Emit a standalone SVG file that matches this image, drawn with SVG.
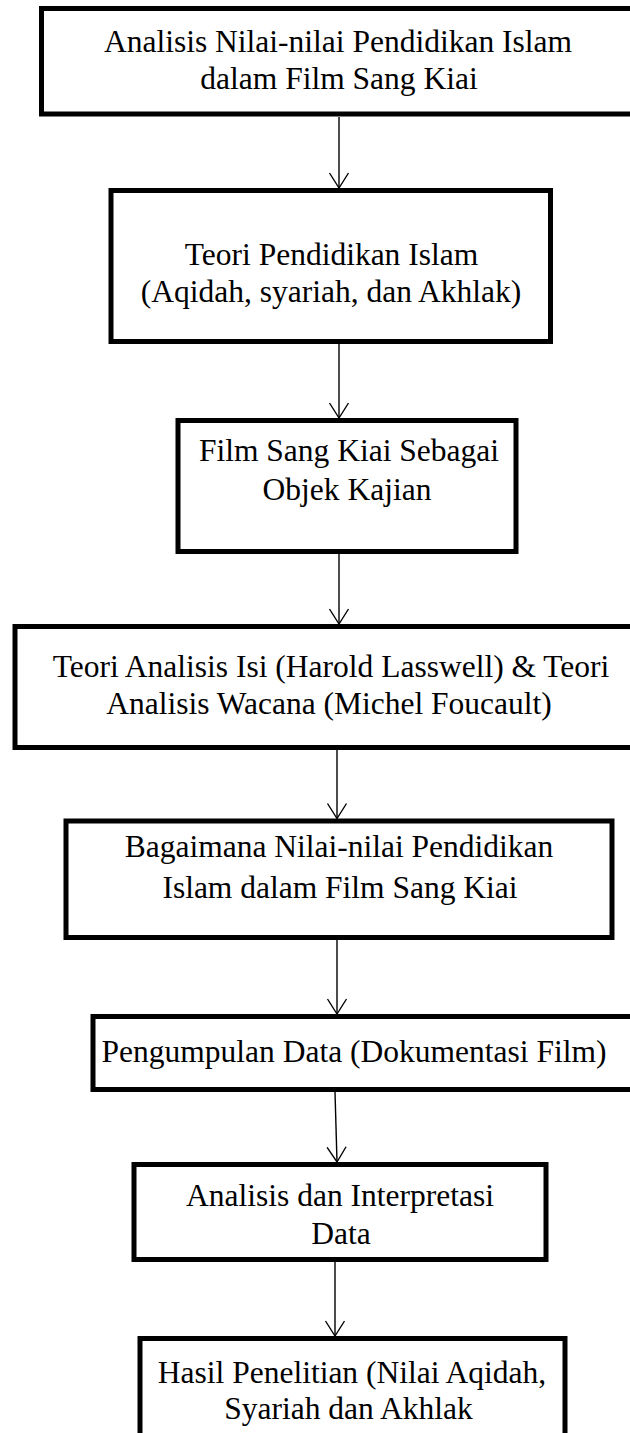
<svg xmlns="http://www.w3.org/2000/svg" width="630" height="1433" viewBox="0 0 630 1433">
<style>
.box{fill:#fff;stroke:#000;stroke-width:5}
.t{font-family:"Liberation Serif","Times New Roman",serif;font-size:31.5px;fill:#000;text-anchor:middle}
.c{stroke:#000;stroke-width:1.4;fill:none}
</style>
<defs>
<marker id="ah" markerUnits="userSpaceOnUse" markerWidth="40" markerHeight="40" refX="0" refY="0" orient="auto" overflow="visible">
<path d="M-15,-9.5 L0,0 L-15,9.5" fill="none" stroke="#000" stroke-width="1.4"/>
</marker>
</defs>
<rect width="630" height="1433" fill="#fff"/>
<g id="connectors">
<line class="c" x1="339" y1="117" x2="339" y2="188" marker-end="url(#ah)"/>
<line class="c" x1="339" y1="344" x2="339" y2="418" marker-end="url(#ah)"/>
<line class="c" x1="339" y1="554" x2="339" y2="624" marker-end="url(#ah)"/>
<line class="c" x1="337" y1="750" x2="337" y2="818.5" marker-end="url(#ah)"/>
<line class="c" x1="337" y1="940" x2="337" y2="1014" marker-end="url(#ah)"/>
<line class="c" x1="335" y1="1092" x2="337" y2="1162" marker-end="url(#ah)"/>
<line class="c" x1="335" y1="1262" x2="335" y2="1336" marker-end="url(#ah)"/>
</g>
<g id="n1">
<rect class="box" x="41.5" y="8.5" width="620" height="105.5"/>
<text class="t" x="338" y="52">Analisis Nilai-nilai Pendidikan Islam</text>
<text class="t" x="339" y="89">dalam Film Sang Kiai</text>
</g>
<g id="n2">
<rect class="box" x="111" y="190.5" width="439.5" height="151"/>
<text class="t" x="331.5" y="265">Teori Pendidikan Islam</text>
<text class="t" x="331" y="302">(Aqidah, syariah, dan Akhlak)</text>
</g>
<g id="n3">
<rect class="box" x="178" y="420.5" width="338" height="131"/>
<text class="t" x="349" y="461">Film Sang Kiai Sebagai</text>
<text class="t" x="347" y="500">Objek Kajian</text>
</g>
<g id="n4">
<rect class="box" x="15" y="626.5" width="650" height="121"/>
<text class="t" x="331" y="677">Teori Analisis Isi (Harold Lasswell) &amp; Teori</text>
<text class="t" x="329" y="714">Analisis Wacana (Michel Foucault)</text>
</g>
<g id="n5">
<rect class="box" x="66" y="821" width="546" height="116.5"/>
<text class="t" x="339" y="857">Bagaimana Nilai-nilai Pendidikan</text>
<text class="t" x="340" y="898">Islam dalam Film Sang Kiai</text>
</g>
<g id="n6">
<rect class="box" x="93" y="1016.5" width="572" height="73"/>
<text class="t" x="354" y="1062">Pengumpulan Data (Dokumentasi Film)</text>
</g>
<g id="n7">
<rect class="box" x="134" y="1164.5" width="412" height="95"/>
<text class="t" x="340" y="1206">Analisis dan Interpretasi</text>
<text class="t" x="341" y="1244">Data</text>
</g>
<g id="n8">
<rect class="box" x="140" y="1338.5" width="425" height="120"/>
<text class="t" x="352" y="1383">Hasil Penelitian (Nilai Aqidah,</text>
<text class="t" x="348.5" y="1419">Syariah dan Akhlak</text>
</g>
</svg>
